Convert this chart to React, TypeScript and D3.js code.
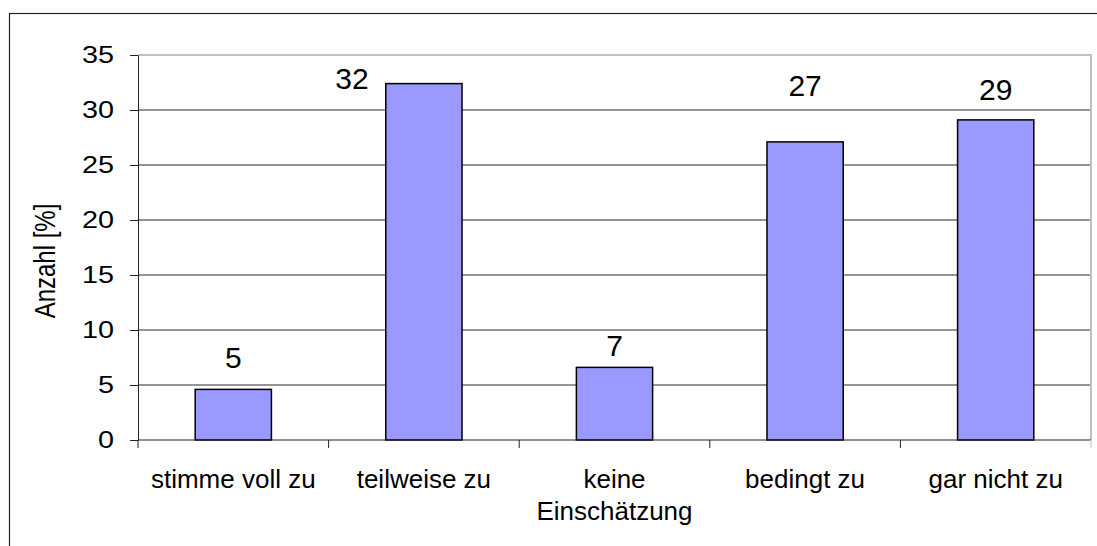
import React, { useRef, useEffect } from "react";
import * as d3 from "d3";

const categories = ["stimme voll zu", "teilweise zu", "keine Einschätzung", "bedingt zu", "gar nicht zu"];
const values = [4.6, 32.4, 6.6, 27.1, 29.1];
const valueLabels = ["5", "32", "7", "27", "29"];
const yTicks = [0, 5, 10, 15, 20, 25, 30, 35];
const yTitle = "Anzahl [%]";

const W = 1097;
const H = 546;

const App = () => {
	const svgRef = useRef<SVGSVGElement>(null);

	useEffect(() => {
		const svg = d3.select(svgRef.current);
		svg.selectAll("*").remove();

		const margin = { top: 55, right: 6, bottom: 106, left: 138 };
		const font = "'Liberation Sans', Arial, sans-serif";

		// chart area border (runs off the right and bottom of the picture)
		svg.append("rect")
			.attr("x", 9.5).attr("y", 13.5)
			.attr("width", 1300).attr("height", 800)
			.attr("fill", "white")
			.attr("stroke", "#222")
			.attr("stroke-width", 1.2);

		const x = d3.scaleBand()
			.domain(categories)
			.range([margin.left, W - margin.right])
			.paddingInner(0.6)
			.paddingOuter(0.3);

		const y = d3.scaleLinear()
			.domain([0, 35])
			.range([H - margin.bottom, margin.top]);

		const x0 = margin.left, x1 = W - margin.right;

		// grid lines
		svg.append("g")
			.selectAll("line")
			.data(yTicks.filter(t => t > 0 && t < 35))
			.enter()
			.append("line")
			.attr("x1", x0).attr("x2", x1)
			.attr("y1", d => y(d)).attr("y2", d => y(d))
			.attr("stroke", "#2a2a2a")
			.attr("stroke-width", 1);

		// plot area border (top + right), light gray
		svg.append("path")
			.attr("d", `M ${x0},${y(35)} H ${x1} V ${y(0)}`)
			.attr("fill", "none")
			.attr("stroke", "#c0c0c0")
			.attr("stroke-width", 2);

		// bars
		svg.append("g")
			.selectAll("rect")
			.data(values)
			.enter()
			.append("rect")
			.attr("x", (d, i) => x(categories[i])!)
			.attr("y", d => y(d))
			.attr("width", x.bandwidth())
			.attr("height", d => y(0) - y(d))
			.attr("fill", "#9999ff")
			.attr("stroke", "#000")
			.attr("stroke-width", 1.5);

		// y axis (tick labels are a bit wide in the source, hence the x stretch)
		const stretch = 1.2;
		const yAxis = svg.append("g")
			.attr("transform", `translate(${x0},0)`)
			.call(d3.axisLeft(y).tickValues(yTicks).tickSize(8).tickSizeOuter(0).tickPadding(16));
		yAxis.select(".domain").attr("stroke", "#222");
		yAxis.selectAll(".tick line").attr("stroke", "#222");
		yAxis.selectAll("text")
			.attr("x", -24 / stretch)
			.attr("transform", `scale(${stretch},1)`)
			.attr("font-family", font)
			.attr("font-size", 24)
			.attr("fill", "#000");

		// x axis line + boundary ticks
		svg.append("line")
			.attr("x1", x0).attr("x2", x1)
			.attr("y1", y(0)).attr("y2", y(0))
			.attr("stroke", "#222");
		const bounds = d3.range(categories.length + 1).map(i => x0 + i * x.step());
		svg.append("g")
			.selectAll("line")
			.data(bounds)
			.enter()
			.append("line")
			.attr("x1", d => d).attr("x2", d => d)
			.attr("y1", y(0)).attr("y2", y(0) + 8)
			.attr("stroke", (d, i) => i === bounds.length - 1 ? "#c0c0c0" : "#222");

		// category labels, wrapped to the band step
		const catG = svg.append("g");
		categories.forEach(c => {
			const cx = x(c)! + x.bandwidth() / 2;
			const t = catG.append("text")
				.attr("x", cx)
				.attr("y", y(0) + 48)
				.attr("text-anchor", "middle")
				.attr("font-family", font)
				.attr("font-size", 26)
				.attr("fill", "#000");
			const words = c.split(" ");
			let line: string[] = [];
			let tspan = t.append("tspan").attr("x", cx);
			words.forEach(w => {
				line.push(w);
				tspan.text(line.join(" "));
				if ((tspan.node() as SVGTSpanElement).getComputedTextLength() > x.step() * 0.95 && line.length > 1) {
					line.pop();
					tspan.text(line.join(" "));
					line = [w];
					tspan = t.append("tspan").attr("x", cx).attr("dy", 32).text(w);
				}
			});
		});

		// value labels, placed like the original (hand-moved in the source chart)
		const labelShift = [[0, -21], [-72, 5], [0, -11], [0, -46], [0, -20]];
		svg.append("g")
			.selectAll("text")
			.data(values)
			.enter()
			.append("text")
			.attr("x", (d, i) => x(categories[i])! + x.bandwidth() / 2 + labelShift[i][0])
			.attr("y", (d, i) => y(d) + labelShift[i][1])
			.attr("text-anchor", "middle")
			.attr("font-family", font)
			.attr("font-size", 30)
			.attr("fill", "#000")
			.text((d, i) => valueLabels[i]);

		// y axis title
		svg.append("text")
			.attr("transform", `translate(55,261) scale(1.25,1) rotate(-90)`)
			.attr("text-anchor", "middle")
			.attr("font-family", font)
			.attr("font-size", 24)
			.attr("fill", "#000")
			.text(yTitle);
	}, []);

	return (
		<svg
			ref={svgRef}
			width={W}
			height={H}
			style={{ position: "absolute", left: 0, top: 0, background: "white" }}
		></svg>
	);
};

export default App;
